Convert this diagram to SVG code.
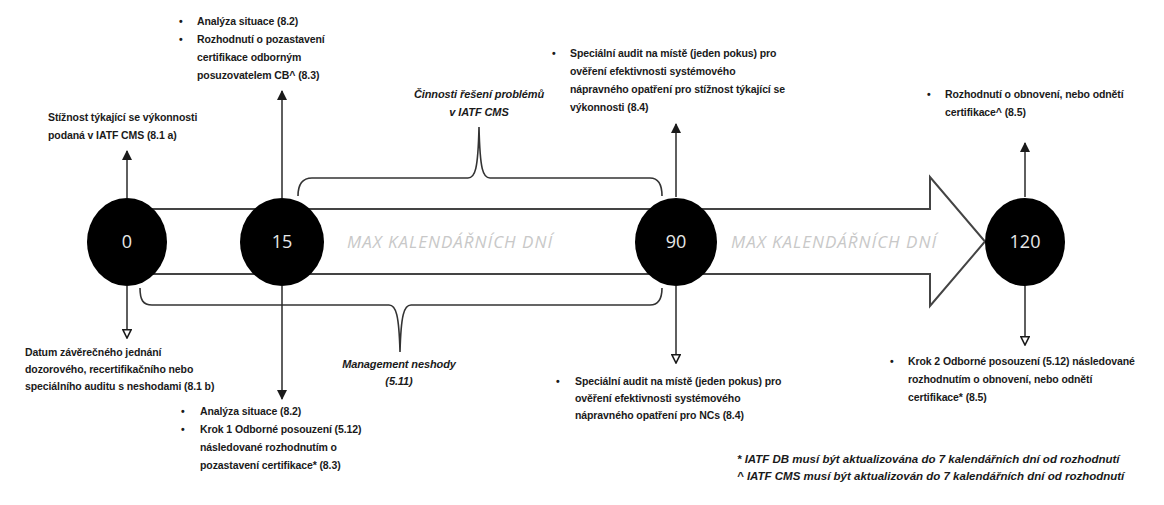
<svg xmlns="http://www.w3.org/2000/svg" width="1164" height="505" viewBox="0 0 1164 505">
<style>
.t{font-family:"Liberation Sans",Arial,sans-serif;font-weight:bold;font-size:10.5px;fill:#1a1a1a;letter-spacing:-0.1px}
.i{font-family:"Liberation Sans",Arial,sans-serif;font-weight:bold;font-style:italic;font-size:11px;fill:#1a1a1a;letter-spacing:-0.1px}
.f{font-family:"Liberation Sans",Arial,sans-serif;font-weight:bold;font-style:italic;font-size:11.5px;fill:#1a1a1a}
.n{font-family:"Open Sans","Liberation Sans",sans-serif;font-size:18px;fill:#e8e8e8;text-anchor:middle}
.m{font-family:"Open Sans","Liberation Sans",sans-serif;font-style:italic;font-size:17px;fill:#c8c8c8;text-anchor:middle;letter-spacing:1px}
.c{fill:#000}
.ln{stroke:#2a2a2a;stroke-width:1.5;fill:none}
.br{stroke:#333;stroke-width:1.6;fill:none}
</style>
<defs>
<marker id="af" viewBox="0 0 10 10" refX="9" refY="5" markerWidth="7" markerHeight="7" orient="auto"><path d="M0,0 L10,5 L0,10 z" fill="#1a1a1a"/></marker>
<marker id="ao" viewBox="0 0 10 10" refX="9" refY="5" markerWidth="7" markerHeight="7" orient="auto"><path d="M1,1 L9,5 L1,9 z" fill="#fff" stroke="#1a1a1a" stroke-width="1.5"/></marker>
</defs>
<rect width="1164" height="505" fill="#fff"/>
<g id="timeline-arrow">
<polygon points="127,209 930,209 930,177 985,241.5 930,306 930,274 127,274" fill="#fff" stroke="#444" stroke-width="2"/>
<text class="m" x="450" y="248">MAX KALENDÁŘNÍCH DNÍ</text>
<text class="m" x="834" y="248">MAX KALENDÁŘNÍCH DNÍ</text>
</g>
<g id="connectors">
<path class="br" d="M298,196 C298,184 302,178 312,178 L468,178 C475,178 478,170 479,127 C480,170 483,178 490,178 L650,178 C658,178 662,184 662,196"/>
<path class="br" d="M140,288 C140,300 143,305 152,305 L389,305 C396,305 399,315 400,352 C401,315 404,305 411,305 L650,305 C658,305 662,300 662,288"/>
<line class="ln" x1="127" y1="198" x2="127" y2="151" marker-end="url(#af)"/>
<line class="ln" x1="127" y1="286" x2="127" y2="338" marker-end="url(#ao)"/>
<line class="ln" x1="282" y1="198" x2="282" y2="91" marker-end="url(#af)"/>
<line class="ln" x1="282" y1="286" x2="282" y2="399" marker-end="url(#af)"/>
<line class="ln" x1="676" y1="197" x2="676" y2="124" marker-end="url(#af)"/>
<line class="ln" x1="676" y1="286" x2="676" y2="363" marker-end="url(#ao)"/>
<line class="ln" x1="1025" y1="197" x2="1025" y2="143" marker-end="url(#af)"/>
<line class="ln" x1="1025" y1="286" x2="1025" y2="345" marker-end="url(#ao)"/>
</g>
<g id="node-0"><ellipse class="c" cx="127" cy="242" rx="40" ry="44"/><text class="n" x="127" y="248">0</text></g>
<g id="node-15"><ellipse class="c" cx="282" cy="242" rx="42" ry="44"/><text class="n" x="282" y="248">15</text></g>
<g id="node-90"><ellipse class="c" cx="676" cy="242" rx="41" ry="44"/><text class="n" x="676" y="248">90</text></g>
<g id="node-120"><ellipse class="c" cx="1025" cy="242" rx="40" ry="44"/><text class="n" x="1025" y="248">120</text></g>
<g id="label-brace-top">
<text class="i" x="479" y="98" text-anchor="middle">Činnosti řešení problémů</text>
<text class="i" x="479" y="116" text-anchor="middle">v IATF CMS</text>
</g>
<g id="label-brace-bottom">
<text class="i" x="399" y="368" text-anchor="middle">Management neshody</text>
<text class="i" x="399" y="385" text-anchor="middle">(5.11)</text>
</g>
<g id="text-0-top">
<text class="t" x="48" y="121">Stížnost týkající se výkonnosti</text>
<text class="t" x="48" y="139">podaná v IATF CMS (8.1 a)</text>
</g>
<g id="text-0-bottom">
<text class="t" x="25" y="356">Datum závěrečného jednání</text>
<text class="t" x="25" y="373">dozorového, recertifikačního nebo</text>
<text class="t" x="25" y="390">speciálního auditu s neshodami (8.1 b)</text>
</g>
<g id="text-15-top">
<text class="t" x="179" y="25">•</text><text class="t" x="197" y="25">Analýza situace (8.2)</text>
<text class="t" x="179" y="43">•</text><text class="t" x="197" y="43">Rozhodnutí o pozastavení</text>
<text class="t" x="197" y="61">certifikace odborným</text>
<text class="t" x="197" y="79">posuzovatelem CB^ (8.3)</text>
</g>
<g id="text-15-bottom">
<text class="t" x="181" y="415">•</text><text class="t" x="200" y="415">Analýza situace (8.2)</text>
<text class="t" x="181" y="433">•</text><text class="t" x="200" y="433">Krok 1 Odborné posouzení (5.12)</text>
<text class="t" x="200" y="451">následované rozhodnutím o</text>
<text class="t" x="200" y="469">pozastavení certifikace* (8.3)</text>
</g>
<g id="text-90-top">
<text class="t" x="552" y="57">•</text><text class="t" x="570" y="57">Speciální audit na místě (jeden pokus) pro</text>
<text class="t" x="570" y="75">ověření efektivnosti systémového</text>
<text class="t" x="570" y="93">nápravného opatření pro stížnost týkající se</text>
<text class="t" x="570" y="111">výkonnosti (8.4)</text>
</g>
<g id="text-90-bottom">
<text class="t" x="556" y="385">•</text><text class="t" x="575" y="385">Speciální audit na místě (jeden pokus) pro</text>
<text class="t" x="575" y="402">ověření efektivnosti systémového</text>
<text class="t" x="575" y="419">nápravného opatření pro NCs (8.4)</text>
</g>
<g id="text-120-top">
<text class="t" x="927" y="98">•</text><text class="t" x="945" y="98">Rozhodnutí o obnovení, nebo odnětí</text>
<text class="t" x="945" y="116">certifikace^ (8.5)</text>
</g>
<g id="text-120-bottom">
<text class="t" x="890" y="365">•</text><text class="t" x="908" y="365">Krok 2 Odborné posouzení (5.12) následované</text>
<text class="t" x="908" y="383">rozhodnutím o obnovení, nebo odnětí</text>
<text class="t" x="908" y="401">certifikace* (8.5)</text>
</g>
<g id="footnotes">
<text class="f" x="737" y="463">* IATF DB musí být aktualizována do 7 kalendářních dní od rozhodnutí</text>
<text class="f" x="737" y="480">^ IATF CMS musí být aktualizován do 7 kalendářních dní od rozhodnutí</text>
</g>
</svg>
